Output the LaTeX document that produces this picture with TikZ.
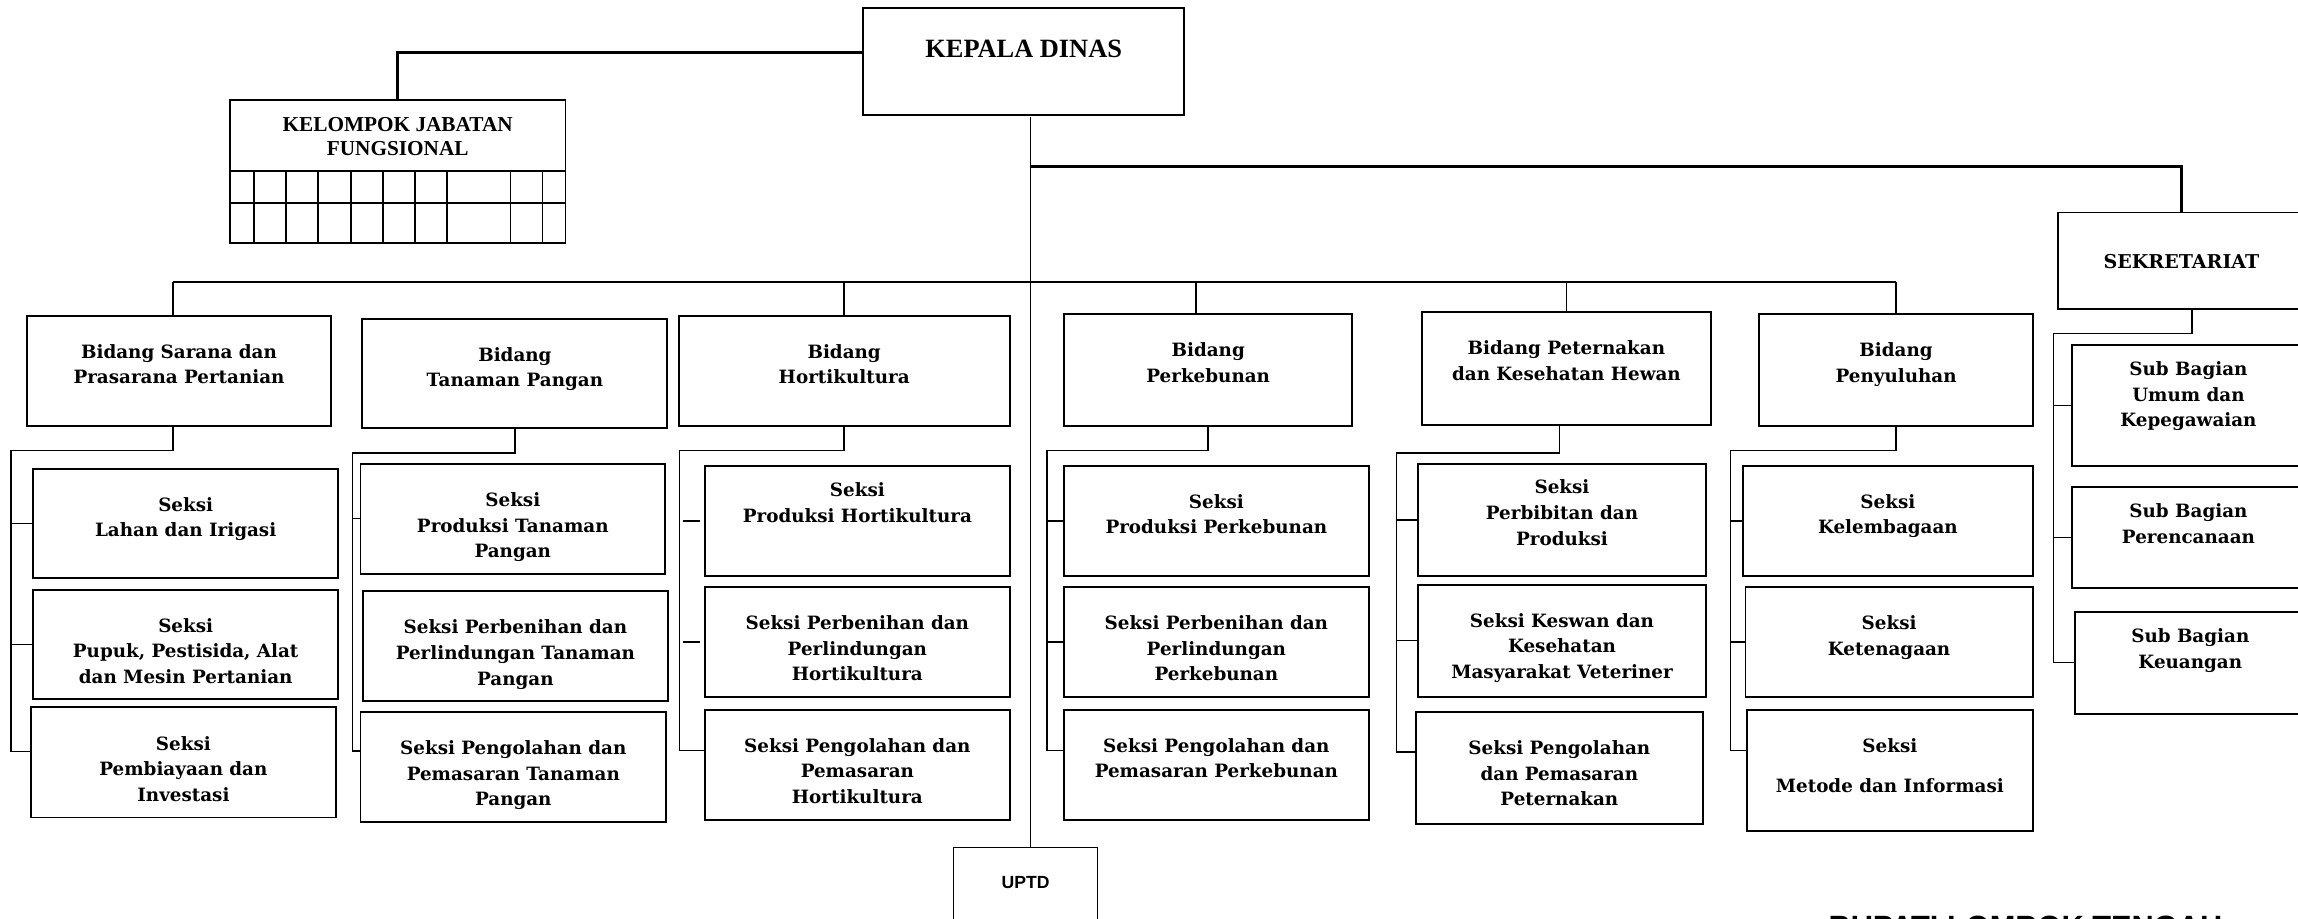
\documentclass[tikz,border=0pt]{standalone}
\usepackage{fontspec}
\setmainfont{DejaVu Serif}
\newfontfamily\timesbd{Liberation Serif}
\newfontfamily\arialbd{Liberation Sans}

\begin{document}
\begin{tikzpicture}[x=1pt,y=-1pt,
  box/.style={draw,line width=1.3pt,inner sep=0pt},
  txt/.style={anchor=north,yshift=-20pt,inner sep=0pt,align=center,font=\bfseries\fontsize{12.5}{17.5}\selectfont},
  ttl/.style={anchor=north,inner sep=0pt,align=center},
  ln/.style={line width=1pt},
  tln/.style={line width=2.2pt}]
\path[use as bounding box,fill=white] (0,0) rectangle (1568,627);

% top of the chart
\node[box,minimum width=219pt,minimum height=73pt,
  label={[ttl,yshift=-22.5pt,font=\timesbd\bfseries\fontsize{18}{20}\selectfont]north:KEPALA DINAS}] (kadis) at (698.5,42.1) {};
\node[box,minimum width=229pt,minimum height=97pt,
  label={[ttl,yshift=-12.3pt,font=\timesbd\bfseries\fontsize{14.5}{16}\selectfont]north:{KELOMPOK JABATAN\\FUNGSIONAL}}] (jf) at (271.35,117) {};
\foreach \gy in {116.7,138.5} \draw[line width=1.3pt] (156.9,\gy) -- (385.8,\gy);
\foreach \gx in {173.4,195.2,217,239.6,261.3,283.1,304.9,348.4,370.1} \draw[ln] (\gx,116.7) -- (\gx,165.4);
\node[box,minimum width=169pt,minimum height=66pt,
  label={[txt,yshift=-9pt,font=\bfseries\fontsize{13}{16}\selectfont]north:SEKRETARIAT}] (sekr) at (1488.5,178) {};
\node[box,line width=1pt,minimum width=98.5pt,minimum height=62pt,
  label={[ttl,yshift=-19.8pt,font=\arialbd\bfseries\fontsize{12}{14}\selectfont]north:UPTD}] (uptd) at (699.75,609.4) {};

% bidang
\node[box,minimum width=207.7pt,minimum height=75.5pt,label={[txt]north:{Bidang Sarana dan\\Prasarana Pertanian}}] (bsar) at (122.15,253.15) {};
\node[box,minimum width=208.1pt,minimum height=74.8pt,label={[txt]north:{Bidang\\Tanaman Pangan}}] (btp) at (351.35,254.8) {};
\node[box,minimum width=226pt,minimum height=75.5pt,label={[txt]north:{Bidang\\Hortikultura}}] (bhor) at (576,253.15) {};
\node[box,minimum width=196.8pt,minimum height=76.7pt,label={[txt]north:{Bidang\\Perkebunan}}] (bkeb) at (824.4,252.55) {};
\node[box,minimum width=197pt,minimum height=76.7pt,label={[txt]north:{Bidang Peternakan\\dan Kesehatan Hewan}}] (bpet) at (1068.8,251.35) {};
\node[box,minimum width=186.5pt,minimum height=76.7pt,label={[txt]north:{Bidang\\Penyuluhan}}] (bpen) at (1293.75,252.55) {};

% seksi
\node[box,minimum width=207.8pt,minimum height=74.8pt,label={[txt]north:{Seksi\\Lahan dan Irigasi}}] (s11) at (126.7,357.1) {};
\node[box,minimum width=207.8pt,minimum height=74.6pt,label={[txt]north:{Seksi\\Pupuk, Pestisida, Alat\\dan Mesin Pertanian}}] (s12) at (126.7,439.6) {};
\node[box,minimum width=207.7pt,minimum height=75.1pt,label={[txt]north:{Seksi\\Pembiayaan dan\\Investasi}}] (s13) at (125.15,520.25) {};

\node[box,minimum width=207.8pt,minimum height=74.9pt,label={[txt]north:{Seksi\\Produksi Tanaman\\Pangan}}] (s21) at (349.9,353.95) {};
\node[box,minimum width=208.1pt,minimum height=75.1pt,label={[txt]north:{Seksi Perbenihan dan\\Perlindungan Tanaman\\Pangan}}] (s22) at (351.65,441.05) {};
\node[box,minimum width=208.5pt,minimum height=74.8pt,label={[txt]north:{Seksi Pengolahan dan\\Pemasaran Tanaman\\Pangan}}] (s23) at (350.25,523.3) {};

\node[box,minimum width=208pt,minimum height=75.5pt,label={[txt,yshift=8pt]north:{Seksi\\Produksi Hortikultura}}] (s31) at (585,355.55) {};
\node[box,minimum width=208pt,minimum height=75.1pt,label={[txt]north:{Seksi Perbenihan dan\\Perlindungan\\Hortikultura}}] (s32) at (585,438.15) {};
\node[box,minimum width=208pt,minimum height=75.3pt,label={[txt]north:{Seksi Pengolahan dan\\Pemasaran\\Hortikultura}}] (s33) at (585,521.85) {};

\node[box,minimum width=207.9pt,minimum height=75.5pt,label={[txt]north:{Seksi\\Produksi Perkebunan}}] (s41) at (829.95,355.55) {};
\node[box,minimum width=207.9pt,minimum height=75.1pt,label={[txt]north:{Seksi Perbenihan dan\\Perlindungan\\Perkebunan}}] (s42) at (829.95,438.15) {};
\node[box,minimum width=207.9pt,minimum height=75.3pt,label={[txt]north:{Seksi Pengolahan dan\\Pemasaran Perkebunan}}] (s43) at (829.95,521.85) {};

\node[box,minimum width=196.4pt,minimum height=76.8pt,label={[txt,yshift=8.5pt]north:{Seksi\\Perbibitan dan\\Produksi}}] (s51) at (1065.8,354.9) {};
\node[box,minimum width=196.4pt,minimum height=76.5pt,label={[txt]north:{Seksi Keswan dan\\Kesehatan\\Masyarakat Veteriner}}] (s52) at (1065.8,437.15) {};
\node[box,minimum width=196pt,minimum height=76.3pt,label={[txt]north:{Seksi Pengolahan\\dan Pemasaran\\Peternakan}}] (s53) at (1064,524.05) {};

\node[box,minimum width=197.7pt,minimum height=75.5pt,label={[txt]north:{Seksi\\Kelembagaan}}] (s61) at (1288.15,355.55) {};
\node[box,minimum width=196pt,minimum height=75.1pt,label={[txt]north:{Seksi\\Ketenagaan}}] (s62) at (1289,438.15) {};
\node[box,minimum width=195pt,minimum height=82.4pt,label={[txt]north:{Seksi\\[9.8pt]Metode dan Informasi}}] (s63) at (1289.5,525.9) {};

% sub bagian
\node[box,minimum width=159.5pt,minimum height=82.8pt,label={[txt,yshift=8pt]north:{Sub Bagian\\Umum dan\\Kepegawaian}}] (b1) at (1493.25,276.7) {};
\node[box,minimum width=159.5pt,minimum height=69pt,label={[txt,yshift=8pt]north:{Sub Bagian\\Perencanaan}}] (b2) at (1493.25,366.7) {};
\node[box,minimum width=157pt,minimum height=69.6pt,label={[txt,yshift=8pt]north:{Sub Bagian\\Keuangan}}] (b3) at (1494.5,452.2) {};

\node[ttl,font=\arialbd\bfseries\fontsize{21}{23}\selectfont] (bupati) at (1382,624.5) {BUPATI LOMBOK TENGAH};

% lines from the head
\coordinate (spine) at (703,80);
\coordinate (tb) at (703,113.7);
\coordinate (bus) at (0,192.2);
\draw[ln] (spine) -- (spine |- uptd.north);
\draw[tln] ([yshift=-30.8pt]kadis.north west) -| (jf.north);
\draw[tln] (tb) -| (sekr.north);
\coordinate (d1) at ([xshift=-4pt]bsar.north);
\coordinate (d4) at ([xshift=-8.4pt]bkeb.north);
\draw[line width=1.3pt] (d1 |- bus) -- (bpen.north |- bus);
\foreach \d in {d1,bhor.north,d4,bpet.north,bpen.north}
  \draw[ln] (\d |- bus) -- (\d);

% lines to the seksi
\coordinate (v1) at (7.6,307.5);
\draw[ln] (d1 |- bsar.south) |- (v1) |- ([yshift=7.5pt]s13.west);
\draw[ln] (v1 |- s11.west) -- (s11.west);
\draw[ln] (v1 |- s12.west) -- (s12.west);

\coordinate (v2) at (240.6,309.2);
\draw[ln] (btp.south) |- (v2) |- ([yshift=11pt]s23.west);
\draw[ln] (v2 |- s21.west) -- (s21.west);

\coordinate (v3) at (463.8,307.5);
\draw[ln] (bhor.south) |- (v3) |- ([yshift=9.6pt]s33.west);
\draw[ln] ([xshift=-14.6pt]s31.west) -- ([xshift=-3pt]s31.west);
\draw[ln] ([xshift=-14.6pt]s32.west) -- ([xshift=-3pt]s32.west);

\coordinate (v4) at (714.4,307.5);
\draw[ln] (bkeb.south) |- (v4) |- ([yshift=9.6pt]s43.west);
\draw[ln] (v4 |- s41.west) -- (s41.west);
\draw[ln] (v4 |- s42.west) -- (s42.west);

\coordinate (v5) at (952.8,309.2);
\draw[ln] ([xshift=-4.6pt]bpet.south) |- (v5) |- ([yshift=10.8pt]s53.west);
\draw[ln] (v5 |- s51.west) -- (s51.west);
\draw[ln] (v5 |- s52.west) -- (s52.west);

\coordinate (v6) at (1180.6,307.5);
\draw[ln] (bpen.south) |- (v6) |- ([yshift=13.7pt]s63.west);
\draw[ln] (v6 |- s61.west) -- (s61.west);
\draw[ln] (v6 |- s62.west) -- (s62.west);

\coordinate (v7) at (1401,227.5);
\draw[ln] ([xshift=7pt]sekr.south) |- (v7) |- (b3.west);
\draw[ln] (v7 |- b1.west) -- (b1.west);
\draw[ln] (v7 |- b2.west) -- (b2.west);
\end{tikzpicture}
\end{document}
